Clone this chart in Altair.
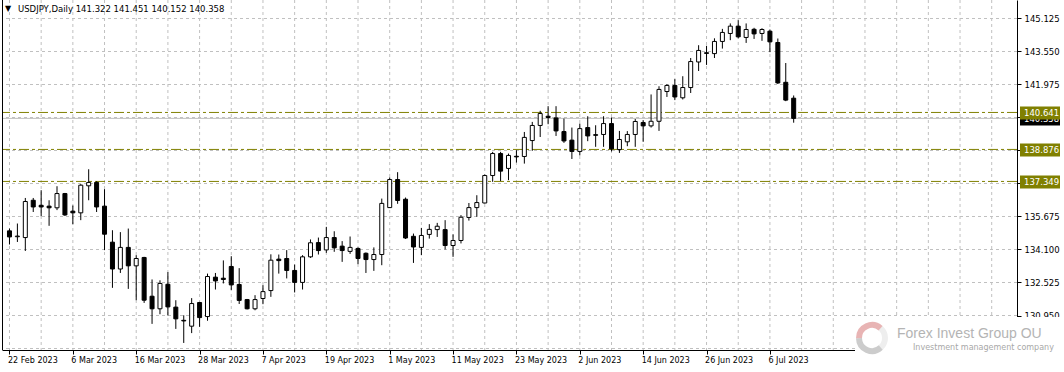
import json
import numpy as np
import pandas as pd
import altair as alt

# ---------------- data ----------------
symbol = "USDJPY,Daily"
opens = [134.99, 134.71, 134.67, 136.45, 136.21, 136.17, 136.09, 136.77, 135.93, 135.85,
         137.14, 137.30, 136.17, 134.45, 133.17, 134.20, 133.32, 133.72, 131.87, 131.27,
         132.44, 131.35, 130.72, 130.44, 131.57, 130.90, 132.78, 132.73, 133.29, 132.43,
         131.71, 131.27, 131.76, 132.14, 133.64, 133.67, 133.10, 132.53, 133.75, 134.43,
         134.08, 134.67, 134.26, 134.01, 134.15, 133.92, 133.62, 133.86, 136.10, 137.44,
         136.50, 134.73, 134.20, 134.82, 135.05, 135.05, 134.29, 134.53, 135.63, 136.10,
         136.32, 137.63, 138.68, 137.97, 138.55, 138.54, 139.30, 140.02, 140.46, 140.38,
         139.73, 139.32, 138.78, 139.92, 139.58, 139.59, 140.11, 138.87, 139.24, 139.59,
         140.16, 140.00, 140.22, 141.64, 141.93, 141.34, 141.83, 143.05, 143.49, 143.45,
         144.03, 144.41, 144.76, 144.22, 144.61, 144.41, 144.52, 143.98, 142.08, 141.322]
highs = [135.10, 135.34, 136.56, 136.56, 136.93, 136.45, 137.12, 136.80, 136.20, 137.22,
         137.93, 137.36, 136.98, 135.02, 134.93, 135.10, 133.83, 133.75, 132.67, 132.63,
         133.02, 131.68, 130.96, 131.78, 131.60, 132.95, 132.98, 133.58, 133.78, 133.21,
         131.74, 131.92, 132.40, 133.87, 133.86, 134.07, 133.38, 133.83, 134.58, 134.67,
         135.18, 134.97, 134.50, 134.72, 134.20, 133.96, 134.20, 136.53, 137.54, 137.79,
         136.58, 134.86, 135.13, 135.31, 135.37, 135.50, 134.82, 135.74, 136.32, 136.69,
         137.68, 138.76, 138.76, 138.68, 138.84, 139.71, 140.19, 140.72, 140.94, 140.94,
         140.35, 139.92, 140.11, 140.46, 140.03, 140.46, 140.40, 139.76, 139.75, 140.33,
         140.27, 141.50, 141.89, 141.99, 142.23, 142.37, 143.24, 143.85, 143.82, 144.18,
         144.63, 144.89, 145.04, 144.89, 144.68, 144.66, 144.60, 144.17, 143.00, 141.451]
lows = [134.34, 134.46, 134.03, 135.89, 135.69, 135.23, 135.98, 135.70, 135.31, 135.50,
        136.45, 135.89, 134.07, 132.27, 132.98, 132.22, 131.68, 131.55, 130.55, 131.01,
        130.95, 130.31, 129.64, 130.11, 130.41, 130.70, 132.19, 132.48, 132.17, 131.50,
        131.24, 131.20, 131.49, 131.84, 132.95, 132.72, 132.05, 132.19, 133.70, 133.86,
        133.94, 133.99, 133.51, 133.89, 133.40, 132.98, 133.08, 133.35, 136.09, 136.28,
        134.60, 133.46, 133.83, 134.62, 134.70, 134.10, 133.75, 134.39, 135.48, 135.66,
        136.30, 137.33, 137.37, 137.41, 138.25, 138.20, 138.81, 139.47, 140.08, 139.52,
        139.19, 138.42, 138.59, 139.27, 139.00, 139.00, 138.78, 138.71, 139.03, 139.00,
        139.24, 139.92, 139.76, 141.38, 141.23, 141.26, 141.57, 142.62, 142.91, 143.24,
        143.69, 144.09, 144.18, 143.96, 144.15, 144.06, 143.52, 142.00, 141.18, 140.152]
closes = [134.70, 134.74, 136.39, 136.13, 136.13, 136.09, 136.77, 135.75, 135.85, 137.17,
          137.30, 136.13, 134.83, 133.17, 134.20, 133.32, 133.67, 131.68, 131.27, 132.48,
          131.36, 130.79, 130.69, 131.52, 130.85, 132.81, 132.60, 132.67, 132.41, 131.67,
          131.27, 131.71, 132.09, 133.59, 133.57, 133.10, 132.53, 133.75, 134.42, 134.05,
          134.67, 134.18, 134.05, 134.20, 133.67, 133.62, 133.86, 136.30, 137.44, 136.44,
          134.65, 134.22, 134.77, 135.06, 135.21, 134.29, 134.53, 135.64, 136.10, 136.34,
          137.63, 138.68, 137.84, 138.59, 138.52, 139.45, 140.02, 140.59, 140.40, 139.76,
          139.28, 138.78, 139.87, 139.52, 139.55, 140.11, 138.90, 139.35, 139.59, 140.21,
          140.00, 140.22, 141.74, 141.93, 141.38, 141.83, 143.07, 143.60, 143.46, 144.03,
          144.46, 144.76, 144.25, 144.60, 144.39, 144.60, 144.01, 142.05, 141.23, 140.358]

date_labels = ["22 Feb 2023", "6 Mar 2023", "16 Mar 2023", "28 Mar 2023", "7 Apr 2023",
               "19 Apr 2023", "1 May 2023", "11 May 2023", "23 May 2023", "2 Jun 2023",
               "14 Jun 2023", "26 Jun 2023", "6 Jul 2023"]
label_every = 8          # bars between date labels
grid_every = 4           # bars between vertical grid lines
price_ticks = [130.950, 132.525, 134.100, 135.675, 137.250, 138.825,
               140.400, 141.975, 143.550, 145.125]
grid_prices = [129.375] + price_ticks
level_prices = [140.641, 138.876, 137.349]

assert len(opens) == len(highs) == len(lows) == len(closes) == 100

# ---------------- styling ----------------
FONT = "DejaVu Sans"
FS = 8.5
OLIVE = "#808000"
GRID = "#c0c0c0"
W, H = 1015, 350

bars = pd.DataFrame({"i": np.arange(len(opens)), "open": opens, "high": highs,
                     "low": lows, "close": closes})
bars["dir"] = np.where(bars["close"] >= bars["open"], "up", "down")
bid = closes[-1]

xscale = alt.Scale(domain=[-0.3125, 126.5625], nice=False, zero=False)
yscale = alt.Scale(domain=[129.30341, 146.00795], nice=False, zero=False)

label_expr = json.dumps(date_labels) + "[round(datum.value / %d)]" % label_every
x_axis = alt.Axis(values=list(range(0, label_every * len(date_labels), label_every)),
                  labelExpr=label_expr, grid=False, title="", domainColor="black",
                  tickColor="black", tickSize=4, labelAlign="left", labelOffset=-2,
                  labelPadding=2, labelFont=FONT, labelFontSize=8, labelColor="black",
                  labelOverlap=False, labelFlush=False, labelBound=False, zindex=0)
y_axis = alt.Axis(orient="right", values=price_ticks, format=".3f", grid=False, title="",
                  domainColor="black", tickColor="black", tickSize=4, labelPadding=3,
                  labelFont=FONT, labelFontSize=FS, labelColor="black",
                  labelOverlap=False, labelFlush=False, labelBound=False, zindex=0)

X = lambda f: alt.X(f, type="quantitative", scale=xscale, axis=x_axis)
Y = lambda f: alt.Y(f, type="quantitative", scale=yscale, axis=y_axis)
one = pd.DataFrame({"k": [0]})

vgrid = alt.Chart(pd.DataFrame({"i": list(range(0, 127, grid_every))})).mark_rule(
    color=GRID, strokeDash=[3, 3], strokeWidth=1).encode(x=X("i"))
hgrid = alt.Chart(pd.DataFrame({"p": grid_prices})).mark_rule(
    color=GRID, strokeDash=[3, 3], strokeWidth=1).encode(y=Y("p"))
left_border = alt.Chart(one).mark_rule(color="black", strokeWidth=1).encode(
    x=alt.value(0.5), y=alt.value(0), y2=alt.value(H))
levels = alt.Chart(pd.DataFrame({"p": level_prices})).mark_rule(
    color=OLIVE, strokeDash=[10, 3, 3, 3], strokeWidth=1).encode(y=Y("p"))
bidline = alt.Chart(pd.DataFrame({"p": [bid]})).mark_rule(
    color=GRID, strokeWidth=1).encode(y=Y("p"))

wicks = alt.Chart(bars).mark_rule(color="black", strokeWidth=1).encode(
    x=X("i"), y=Y("low"), y2=alt.Y2("high"))
bodies = alt.Chart(bars).mark_bar(size=4, stroke="black", strokeWidth=1).encode(
    x=X("i"), y=Y("open"), y2=alt.Y2("close"),
    color=alt.Color("dir:N", scale=alt.Scale(domain=["up", "down"], range=["white", "black"]),
                    legend=None))

bid_df = pd.DataFrame({"p": [bid], "label": ["%.3f" % bid]})
lvl_df = pd.DataFrame({"p": level_prices, "label": ["%.3f" % p for p in level_prices]})

def price_box(df, fill):
    rect = alt.Chart(df).mark_rect(color=fill, yOffset=-6, y2Offset=7).encode(
        x=alt.value(1018), x2=alt.value(1058), y=Y("p"), y2=alt.Y2("p"))
    txt = alt.Chart(df).mark_text(align="left", baseline="middle", color="white",
                                  font=FONT, fontSize=FS, dy=0.5).encode(
        x=alt.value(1022), y=Y("p"), text="label:N")
    return rect + txt

bid_box = price_box(bid_df, "black")
lvl_box = price_box(lvl_df, OLIVE)

header_text = "%s  %.3f %.3f %.3f %.3f" % (symbol, opens[-1], highs[-1], lows[-1], closes[-1])
tri = alt.Chart(one).mark_text(text="▼", font=FONT, fontSize=8, color="black",
                               align="center", baseline="middle").encode(
    x=alt.value(6), y=alt.value(9))
header = alt.Chart(one).mark_text(text=header_text, font=FONT, fontSize=FS, color="black",
                                  align="left", baseline="middle").encode(
    x=alt.value(16), y=alt.value(9))

# watermark
wm_bg = alt.Chart(one).mark_rect(color="white").encode(
    x=alt.value(853), x2=alt.value(1062), y=alt.value(317), y2=alt.value(372))
arc_red = alt.Chart(one).mark_arc(radius=16, radius2=10, theta=4.7, theta2=7.0,
                                  color="#e8b4b4").encode(x=alt.value(870), y=alt.value(338))
arc_gray = alt.Chart(one).mark_arc(radius=16, radius2=10, theta=2.4, theta2=4.7,
                                   color="#cccccc").encode(x=alt.value(870), y=alt.value(338))
arc_light = alt.Chart(one).mark_arc(radius=16, radius2=10, theta=0.7, theta2=2.4,
                                    color="#eeeeee").encode(x=alt.value(870), y=alt.value(338))
wm_title = alt.Chart(one).mark_text(
    text="Forex Invest Group OU", font="Liberation Sans",
    fontSize=14, color="#b4b4b4", align="left", baseline="alphabetic").encode(
    x=alt.value(895), y=alt.value(338))
wm_sub = alt.Chart(one).mark_text(
    text="Investment management company", font=FONT, fontSize=8, color="#a8a8a8",
    align="left", baseline="alphabetic").encode(x=alt.value(911), y=alt.value(350))

chart = alt.layer(
    vgrid, hgrid, levels, bidline, wicks, bodies, left_border,
    bid_box, lvl_box, tri, header,
    wm_bg, arc_light, arc_gray, arc_red, wm_title, wm_sub
).properties(
    width=W, height=H,
    autosize=alt.AutoSizeParams(type="none"),
    padding={"left": 2, "top": 0, "right": 47, "bottom": 22},
    background="white",
).configure_view(stroke="transparent")

chart.save("out.html", embed_options={"renderer": "svg", "actions": False})
